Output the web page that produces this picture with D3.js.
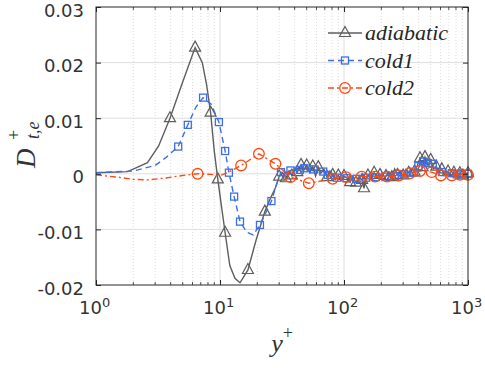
<!DOCTYPE html>
<html>
<head>
<meta charset="utf-8">
<script src="https://cdn.jsdelivr.net/npm/d3@7"></script>
<style>
  body { margin: 0; background: #fff; }
  svg { display: block; }
</style>
</head>
<body>
<svg width="485" height="368"></svg>
<script>
// adiabatic: y+ and D+ values
const adiabaticX = [1, 1.8, 2.6, 3.2, 3.95, 5, 6.3, 7.2, 7.8, 8.4, 9, 9.6, 10.3, 11, 12, 13.2, 14.5, 16.8, 19.5, 23, 26, 28,
    30, 32, 34, 36, 38, 40, 42, 45, 47, 50, 53, 56, 59, 62, 65, 69, 73, 77, 81, 85, 90, 95, 100, 106, 112, 118, 125, 132,
    140, 145, 150, 156, 165, 175, 185, 195, 206, 218, 230, 243, 256, 270, 285, 300, 316, 333, 351, 370, 390, 410, 430, 450,
    475, 500, 525, 555, 585, 615, 650, 690, 730, 770, 815, 860, 910, 960, 1000];
const adiabaticY = [0.0002, 0.0004, 0.002, 0.005, 0.01, 0.0165, 0.0227, 0.02, 0.016, 0.011, 0.004, -0.001, -0.006, -0.0106, -0.0165, -0.0188, -0.0196, -0.0173, -0.012, -0.0068, -0.004, -0.0025,
    -0.0005, 0.0002, -0.0008, 0.0005, -0.0003, 0.001, 0.0003, 0.0016, 0.0005, 0.0015, 0.0002, 0.0013, -0.0004, 0.0012, 0.0001, 0.0008, -0.0006, 0.0005, -0.0002, -0.001, -0.0003, -0.0012, -0.0004, -0.0008, -0.0015, -0.0005, -0.0016, -0.0006,
    -0.0011, -0.0026, -0.0008, -0.0003, -0.0009, 0.0002, -0.0007, -0.0002, -0.0012, -0.0004, 0.0003, -0.0006, 0.0009, -0.0002, 0.0003, -0.0003, 0.0008, 0.0002, 0.0009, 0.0004, 0.0015, 0.0028, 0.0012, 0.003,
    0.0015, 0.0025, 0.0009, 0.0013, 0.0003, 0.0008, -0.0002, 0.0004, -0.0003, 0.0002, -0.0004, 0.0001, -0.0003, 0.0001, 0.0001];
const adiabaticMarks = [4, 6, 9, 11, 13, 17, 19, 22, 24, 26, 28, 29, 31, 33, 35, 38, 40, 42, 44, 46, 48, 50, 51, 53, 55, 57,
    59, 61, 63, 65, 67, 69, 71, 72, 73, 75, 77, 79, 81, 83, 85, 86, 88];

// cold1
const cold1X = [1, 2, 3, 3.7, 4.6, 5.5, 6.4, 7.3, 8.5, 9.8, 11, 11.8, 13, 14.5, 16.5, 18.5, 21, 26, 29, 31,
    34, 37, 40, 44, 48, 52, 57, 62, 68, 74, 80, 88, 96, 105, 115, 126, 138, 151, 165, 180, 197, 215, 235, 257,
    280, 306, 334, 365, 398, 435, 475, 520, 568, 620, 678, 740, 810, 885, 1000];
const cold1Y = [0.0002, 0.0005, 0.0015, 0.003, 0.0049, 0.0088, 0.012, 0.0137, 0.0125, 0.0093, 0.0041, 0.0002, -0.0041, -0.0086, -0.0105, -0.011, -0.0092, -0.0049, -0.0015, 0.0003,
    0.0001, 0.0006, 0.0009, 0.0007, 0.001, 0.0006, 0.0008, 0.0002, 0.0004, -0.0002, -0.0004, -0.0007, -0.0003, -0.0008, -0.0004, -0.0009, -0.0003, -0.0007, -0.0002, -0.0006, -0.0001, -0.0005, -0.0001, -0.0004,
    0.0001, -0.0001, 0.0004, 0.0002, 0.0014, 0.0022, 0.0019, 0.0018, 0.0006, 0.0003, -0.0001, 0.0001, -0.0001, 0, 0];
const cold1Marks = [4, 5, 7, 9, 10, 11, 12, 13, 16, 17, 19, 21, 23, 24, 26, 28, 29, 31, 33, 35, 37, 39, 41, 43, 45, 47, 48, 49, 50,
    51, 53, 55, 56, 57, 58];

// cold2
const cold2X = [1, 1.5, 2, 2.6, 3.5, 5, 6.6, 8.5, 10, 11.5, 14.8, 20.6, 28, 37, 52, 81, 104, 139, 178, 222, 277, 340, 410, 510, 605, 740, 860, 1000];
const cold2Y = [-0.0002, -0.0006, -0.001, -0.0011, -0.0008, -0.0003, 0, -0.0001, -0.0003, 0.0002, 0.0015, 0.0036, 0.0018, -0.0006, -0.0017, -0.0009, -0.0006, -0.0005, -0.0005, -0.0005, -0.0003, 0.0001, 0.0005, 0.0003, -0.0003, -0.0003, -0.0002, -0.0002];
const cold2Marks = [6, 10, 11, 12, 13, 14, 15, 16, 17, 18, 19, 20, 21, 22, 23, 24, 25, 26, 27];

const seriesNames = ["adiabatic", "cold1", "cold2"];
const xTicks = [1, 10, 100, 1000];
const xTickExp = ["0", "1", "2", "3"];
const yTicks = [-0.02, -0.01, 0, 0.01, 0.02, 0.03];
const yTickLabels = ["-0.02", "-0.01", "0", "0.01", "0.02", "0.03"];

const svg = d3.select("svg");
const padLeft = 96, padRight = 468, padTop = 7, padBottom = 285;
const axisColor = "#262626";

const x = d3.scaleLog().domain([1, 1000]).range([padLeft, padRight]);
const y = d3.scaleLinear().domain([-0.02, 0.03]).range([padBottom, padTop]);

//minor values for the log axis
const minor = [];
[1, 10, 100].forEach(d => { for (let k = 2; k <= 9; k++) minor.push(d * k); });

// grid
svg.append("g").selectAll("line").data(minor).join("line")
    .attr("x1", d => x(d)).attr("x2", d => x(d))
    .attr("y1", padTop).attr("y2", padBottom)
    .attr("stroke", "#d4d4d4").attr("stroke-width", 0.8).attr("stroke-dasharray", "1,2");
svg.append("g").selectAll("line").data(xTicks.slice(1, 3)).join("line")
    .attr("x1", d => x(d)).attr("x2", d => x(d))
    .attr("y1", padTop).attr("y2", padBottom)
    .attr("stroke", "#dedede").attr("stroke-width", 1);
svg.append("g").selectAll("line").data(yTicks.slice(1, 5)).join("line")
    .attr("x1", padLeft).attr("x2", padRight)
    .attr("y1", d => y(d)).attr("y2", d => y(d))
    .attr("stroke", "#dedede").attr("stroke-width", 1);

// series
const series = [
    { xs: adiabaticX, ys: adiabaticY, marks: adiabaticMarks, color: "#5e5e5e", dash: null, shape: "tri" },
    { xs: cold1X, ys: cold1Y, marks: cold1Marks, color: "#3f6fe4", dash: "6,4", shape: "sq" },
    { xs: cold2X, ys: cold2Y, marks: cold2Marks, color: "#ff4a12", dash: "6,3,2,3", shape: "circ" }
];

const line = d3.line().x(d => x(d[0])).y(d => y(d[1]));

const drawMarker = (g, shape, color) => {
    if (shape === "tri") {
        g.append("path").attr("d", "M0,-6.5 L5.5,3.5 L-5.5,3.5 Z")
            .attr("fill", "none").attr("stroke", color).attr("stroke-width", 1.2);
    } else if (shape === "sq") {
        g.append("rect").attr("x", -3.5).attr("y", -3.5).attr("width", 7).attr("height", 7)
            .attr("fill", "none").attr("stroke", color).attr("stroke-width", 1.3);
    } else {
        g.append("circle").attr("r", 5.3)
            .attr("fill", "none").attr("stroke", color).attr("stroke-width", 1.3);
    }
};

const plot = svg.append("g");
series.forEach(s => {
    const pts = s.xs.map((d, i) => [d, s.ys[i]]);
    plot.append("path").datum(pts)
        .attr("d", line)
        .attr("fill", "none")
        .attr("stroke", s.color)
        .attr("stroke-width", 1.4)
        .attr("stroke-dasharray", s.dash);
    s.marks.forEach(i => {
        const g = plot.append("g").attr("transform", `translate(${x(pts[i][0])},${y(pts[i][1])})`);
        drawMarker(g, s.shape, s.color);
    });
});

// axes box
svg.append("rect").attr("x", padLeft).attr("y", padTop)
    .attr("width", padRight - padLeft).attr("height", padBottom - padTop)
    .attr("fill", "none").attr("stroke", axisColor).attr("stroke-width", 1);

const xAxis = svg.append("g").attr("transform", `translate(0,${padBottom})`)
    .call(d3.axisBottom(x).tickValues(xTicks).tickSizeInner(-5).tickSizeOuter(0).tickPadding(16).tickFormat(""));
xAxis.select(".domain").remove();
xAxis.selectAll(".tick line").attr("stroke", axisColor);
xAxis.selectAll(".tick text").each(function (d, i) {
    const t = d3.select(this)
        .attr("fill", "#333").attr("font-family", "DejaVu Sans").attr("font-size", 18)
        .attr("dx", "-0.1em");
    t.append("tspan").text("10");
    t.append("tspan").text(xTickExp[i]).attr("font-size", 13).attr("dy", "-0.55em");
});
const xTop = svg.append("g").attr("transform", `translate(0,${padTop})`)
    .call(d3.axisTop(x).tickValues(xTicks).tickSizeInner(-5).tickSizeOuter(0).tickFormat(""));
xTop.select(".domain").remove();
xTop.selectAll(".tick line").attr("stroke", axisColor);

// minor ticks on log axes
[[padBottom, -3], [padTop, 3]].forEach(([yy, len]) => {
    svg.append("g").selectAll("line").data(minor).join("line")
        .attr("x1", d => x(d)).attr("x2", d => x(d))
        .attr("y1", yy).attr("y2", yy + len)
        .attr("stroke", axisColor).attr("stroke-width", 0.8);
});

const yAxis = svg.append("g").attr("transform", `translate(${padLeft},0)`)
    .call(d3.axisLeft(y).tickValues(yTicks).tickSizeInner(-5).tickSizeOuter(0).tickPadding(12)
        .tickFormat((d, i) => yTickLabels[i]));
yAxis.select(".domain").remove();
yAxis.selectAll(".tick line").attr("stroke", axisColor);
yAxis.selectAll(".tick text").attr("fill", "#333").attr("font-family", "DejaVu Sans").attr("font-size", 18)
    .attr("dy", "0.5em");

const yRight = svg.append("g").attr("transform", `translate(${padRight},0)`)
    .call(d3.axisRight(y).tickValues(yTicks).tickSizeInner(-5).tickSizeOuter(0).tickFormat(""));
yRight.select(".domain").remove();
yRight.selectAll(".tick line").attr("stroke", axisColor);

// axis labels
const serif = "Liberation Serif, Times New Roman, serif";
const xl = svg.append("text").attr("x", 282).attr("y", 352).attr("text-anchor", "middle")
    .attr("font-family", serif).attr("font-style", "italic").attr("fill", "#333").attr("font-size", 26);
xl.append("tspan").text("y");
xl.append("tspan").text("+").attr("font-size", 18).attr("font-style", "normal").attr("dy", "-0.7em");

const yl = svg.append("g").attr("transform", "translate(35,168) rotate(-90)");
yl.append("text").attr("x", 0).attr("y", 0).text("D")
    .attr("font-family", serif).attr("font-style", "italic").attr("font-size", 27).attr("fill", "#333");
yl.append("text").attr("x", 29).attr("y", 4).text("t,e")
    .attr("font-family", serif).attr("font-style", "italic").attr("font-size", 18).attr("fill", "#333");
yl.append("text").attr("x", 28).attr("y", -15).text("+")
    .attr("font-family", serif).attr("font-size", 18).attr("fill", "#333");

// legend
const legend = svg.append("g");
series.forEach((s, i) => {
    const ly = 33 + i * 27.5;
    legend.append("line").attr("x1", 328).attr("x2", 362).attr("y1", ly).attr("y2", ly)
        .attr("stroke", s.color).attr("stroke-width", 1.4).attr("stroke-dasharray", s.dash);
    const g = legend.append("g").attr("transform", `translate(345,${ly})`);
    drawMarker(g, s.shape, s.color);
    legend.append("text").attr("x", 365).attr("y", ly + 7).text(seriesNames[i])
        .attr("font-family", serif).attr("font-style", "italic").attr("font-size", 22).attr("fill", "#262626");
});
</script>
</body>
</html>
